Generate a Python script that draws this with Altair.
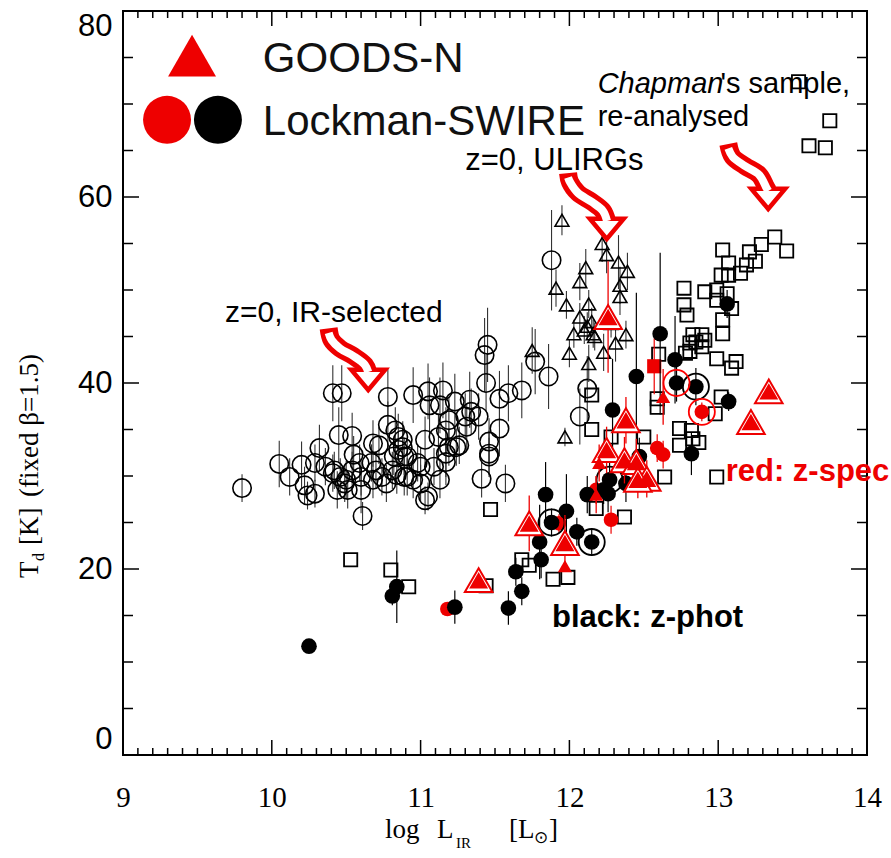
import altair as alt
import pandas as pd

PLOT_W = 744
PLOT_H = 744

# ---------------- data ----------------
# z=0 IR-selected galaxies (open circles): log L_IR, T_d, 1-sigma error
ir_logl = [9.80, 10.05, 10.12, 10.20, 10.22, 10.24, 10.29, 10.29, 10.32, 10.36,
           10.41, 10.47, 10.42, 10.41, 10.44, 10.45, 10.46, 10.49, 10.51, 10.54,
           10.54, 10.55, 10.50, 10.59, 10.60, 10.60, 10.61, 10.67, 10.68, 10.68,
           10.70, 10.72, 10.74, 10.77, 10.78, 10.78, 10.81, 10.82, 10.83, 10.84,
           10.85, 10.85, 10.88, 10.88, 10.89, 10.89, 10.91, 10.91, 10.95, 10.95,
           10.98, 11.00, 11.00, 11.03, 11.03, 11.05, 11.05, 11.06, 11.09, 11.12,
           11.13, 11.13, 11.15, 11.17, 11.17, 11.17, 11.19, 11.19, 11.23, 11.24,
           11.26, 11.30, 11.31, 11.33, 11.34, 11.39, 11.41, 11.43, 11.45, 11.44,
           11.46, 11.46, 11.46, 11.53, 11.53, 11.57, 11.59, 11.68, 11.77, 11.86,
           11.88, 12.07, 12.12]
ir_td = [28.7, 31.3, 29.9, 31.2, 29.0, 27.9, 28.1, 31.4, 33.0, 31.0,
         38.9, 38.9, 30.6, 30.3, 28.5, 34.4, 29.9, 29.2, 28.5, 34.3,
         30.6, 32.3, 29.6, 31.4, 29.9, 28.5, 25.7, 31.4, 33.5, 29.6,
         30.6, 33.3, 29.9, 29.2, 38.5, 35.5, 30.6, 32.1, 34.9, 30.1,
         34.2, 32.8, 33.1, 33.9, 32.1, 29.9, 32.1, 29.9, 38.7, 29.6,
         31.4, 31.0, 29.2, 33.9, 27.4, 27.8, 39.1, 37.6, 31.0, 34.2,
         37.6, 29.6, 39.2, 34.9, 32.4, 31.5, 36.0, 33.1, 38.0, 33.1,
         33.3, 36.4, 35.3, 38.2, 36.9, 36.4, 29.7, 43.0, 44.1, 40.0,
         33.7, 32.4, 32.1, 38.3, 35.1, 29.2, 38.9, 39.2, 42.3, 40.7,
         53.2, 36.4, 39.4]
ir_err = [1.5, 2.5, 2.0, 2.5, 2.0, 1.5, 1.5, 2.0, 2.5, 2.0,
          3.0, 3.0, 2.0, 2.0, 2.0, 3.0, 2.0, 2.0, 2.0, 2.5,
          2.0, 2.0, 2.0, 2.0, 2.0, 2.5, 1.5, 2.0, 2.5, 2.0,
          2.0, 2.0, 2.0, 2.0, 3.0, 2.5, 2.0, 2.0, 2.5, 2.0,
          2.5, 2.0, 2.0, 2.0, 2.0, 2.0, 2.0, 2.0, 3.0, 2.0,
          2.0, 2.0, 2.0, 2.5, 1.5, 1.5, 3.0, 3.0, 2.0, 2.5,
          3.0, 2.0, 3.0, 2.5, 2.5, 2.5, 2.5, 2.0, 3.0, 2.0,
          2.0, 2.5, 2.5, 3.0, 2.5, 2.5, 2.0, 4.0, 4.0, 3.0,
          2.5, 2.5, 2.0, 3.0, 3.0, 2.0, 3.0, 3.0, 3.5, 3.5,
          5.4, 3.0, 3.5]

# z=0 ULIRGs (open triangles)
ul_logl = [11.95, 12.22, 12.25, 12.33, 12.39, 12.11, 12.07, 12.34, 12.34, 11.91,
           11.98, 12.13, 12.07, 12.15, 12.12, 12.03, 12.10, 12.16, 12.17, 12.28,
           12.38, 12.31, 12.23, 12.00, 12.13, 11.75, 11.97]
ul_td = [57.5, 55.0, 53.8, 53.0, 52.0, 52.4, 50.9, 50.5, 49.3, 50.2,
         48.4, 48.5, 47.1, 46.6, 46.1, 45.3, 45.7, 45.3, 45.0, 46.4,
         45.2, 44.3, 43.3, 43.2, 42.1, 43.5, 34.2]
ul_err = [1.6, 2.0, 2.0, 2.9, 2.0, 2.0, 2.0, 2.0, 2.0, 2.0,
          1.5, 1.5, 1.5, 1.5, 1.5, 1.5, 1.5, 1.5, 1.5, 1.5,
          1.5, 2.0, 2.0, 1.5, 2.0, 2.5, 1.0]

# Chapman's sample, re-analysed (open squares)
ch_logl = [13.54, 13.75, 13.61, 13.72, 13.38, 13.46, 13.29, 13.21, 13.03, 13.25,
           13.19, 13.15, 13.07, 13.02, 13.07, 12.91, 12.99, 13.06, 12.99, 13.09,
           12.77, 12.77, 12.79, 13.03, 13.03, 12.83, 12.89, 12.91, 12.85, 12.81,
           12.81, 12.89, 12.99, 13.12, 13.09, 12.78, 13.02, 12.98, 12.60, 12.59,
           12.59, 12.74, 12.82, 12.74, 12.83, 12.50, 12.64, 12.99, 12.15, 12.15,
           12.28, 11.47, 12.18, 12.37, 11.68, 11.73, 11.89, 11.99, 11.44, 10.53,
           10.80, 10.92, 12.87]
ch_td = [72.4, 68.2, 65.5, 65.3, 55.7, 54.2, 54.9, 54.1, 54.3, 53.1,
         52.7, 51.8, 52.9, 51.6, 51.6, 49.8, 50.0, 49.6, 48.9, 48.0,
         50.2, 48.4, 47.3, 46.8, 45.3, 45.2, 45.2, 44.6, 44.4, 44.3,
         43.4, 43.9, 42.6, 42.3, 41.6, 43.2, 38.5, 36.7, 43.1, 38.3,
         37.4, 35.1, 34.9, 33.3, 34.0, 34.2, 29.9, 29.9, 38.7, 35.0,
         34.2, 26.4, 26.5, 25.6, 21.0, 20.4, 18.9, 19.1, 18.2, 21.0,
         19.9, 18.1, 33.6]

# Lockman-SWIRE, photometric redshifts (filled black circles)
lp_logl = [10.25, 10.84, 10.81, 11.23, 11.59, 11.68, 11.64, 11.81, 11.80, 12.05,
           11.98, 11.84, 12.15, 11.88, 12.12, 12.26, 12.23, 12.27, 12.38, 12.47,
           12.29, 12.82, 12.85, 13.07, 12.72, 12.45, 12.61, 12.71, 13.06]
lp_td = [11.7, 18.1, 17.1, 15.9, 15.8, 17.6, 19.7, 21.0, 22.9, 24.0,
         26.2, 28.0, 22.9, 25.0, 28.0, 28.1, 28.5, 29.6, 29.2, 32.1,
         37.1, 32.4, 39.6, 38.0, 40.0, 40.7, 45.3, 42.5, 48.5]
lp_err = [0.6, 3.9, 1.0, 1.8, 1.8, 1.5, 1.5, 2.0, 4.0, 1.5,
          4.0, 3.5, 1.5, 1.5, 2.0, 2.0, 1.5, 2.0, 2.0, 2.0,
          5.5, 2.3, 2.0, 1.0, 2.0, 9.0, 8.7, 4.7, 1.5]

# Lockman-SWIRE, spectroscopic redshifts (filled red circles)
ls_logl = [11.18, 12.28, 12.59, 12.63, 12.89, 12.18, 11.93]
ls_td = [15.7, 25.3, 33.0, 32.3, 36.9, 28.5, 24.9]
ls_err = [0.5, 1.5, 1.5, 1.5, 1.0, 1.5, 1.0]

# red filled square
rq_logl = [12.57]
rq_td = [41.8]
rq_err = [3.0]

# sources marked with an extra ring
ring_logl = [12.15, 11.88, 12.27, 12.85, 12.72, 12.89]
ring_td = [22.9, 25.0, 29.6, 39.6, 40.0, 36.9]
ring_col = ["black", "black", "black", "black", "red", "red"]

# GOODS-N (red triangles), large symbols
gn_logl = [11.39, 11.73, 11.97, 12.38, 12.25, 12.37, 12.45, 12.52, 12.46, 12.26, 13.34, 13.22]
gn_td = [18.8, 24.9, 22.8, 36.0, 32.8, 31.7, 31.5, 29.7, 29.6, 47.1, 39.1, 35.8]
gn_err = [0.5, 3.0, 3.0, 2.5, 2.5, 2.5, 2.5, 2.0, 2.0, 6.0, 0.5, 0.5]
# GOODS-N, small symbols
gs_logl = [11.97, 12.20, 12.18, 12.63]
gs_td = [20.3, 31.4, 28.0, 38.5]
gs_err = [0.5, 2.0, 2.0, 3.0]

# axis ticks
x_major = [9, 10, 11, 12, 13, 14]
x_minor = [round(9 + i / 10, 1) for i in range(1, 50) if i % 10]
y_major = [0, 20, 40, 60, 80]
y_minor = [5, 10, 15, 25, 30, 35, 45, 50, 55, 65, 70, 75]

# wavy annotation arrows: centre line (y for the red outline, yw for the white core)
arrow_id = [1] * 6 + [2] * 6 + [3] * 6
arrow_k = [0, 1, 2, 3, 4, 5] * 3
arrow_x = [10.382, 10.402, 10.458, 10.548, 10.626, 10.648,
           11.991, 12.004, 12.058, 12.152, 12.226, 12.253,
           13.068, 13.097, 13.180, 13.276, 13.321, 13.336]
arrow_y = [45.88, 44.62, 43.73, 42.90, 41.94, 41.18,
           62.58, 61.61, 60.43, 59.46, 58.49, 57.42,
           65.70, 64.33, 63.33, 62.37, 61.08, 60.65]
arrow_yw = [45.40, 44.62, 43.73, 42.90, 41.94, 41.18,
            62.10, 61.61, 60.43, 59.46, 58.49, 57.42,
            65.22, 64.33, 63.33, 62.37, 61.08, 60.65]
head_x = [10.648, 12.251, 13.336]
head_y = [40.43, 56.67, 59.89]

# legend symbols
leg_x = [9.464, 9.296, 9.638]
leg_y = [75.2, 68.3, 68.3]
leg_shape = ["triangle-up", "circle", "circle"]
leg_col = ["#ee0000", "#ee0000", "black"]

# ---------------- encodings ----------------
x_scale = alt.Scale(domain=[9, 14], nice=False, zero=False)
y_scale = alt.Scale(domain=[0, 80], nice=False, zero=False)
x_axis = alt.Axis(values=x_major, title=None, grid=False, ticks=False, domain=False,
                  labelFont="Liberation Serif", labelFontSize=29, labelColor="black",
                  labelPadding=28, labelFlush=False, labelOverlap=False)
y_axis = alt.Axis(values=y_major, title=None, grid=False, ticks=False, domain=False,
                  labelFont="Liberation Sans", labelFontSize=31, labelColor="black",
                  labelPadding=11, labelFlush=True, labelOverlap=False)


def X(field="x"):
    return alt.X(f"{field}:Q", scale=x_scale, axis=x_axis)


def Y(field="y"):
    return alt.Y(f"{field}:Q", scale=y_scale, axis=y_axis)


def frame(xs, ys, **extra):
    d = {"x": xs, "y": ys}
    d.update(extra)
    return pd.DataFrame(d)


def errbars(df, color, width=1.2):
    d = df.assign(lo=df["y"] - df["e"], hi=df["y"] + df["e"])
    return alt.Chart(d).mark_rule(color=color, strokeWidth=width).encode(
        x=X(), y=Y("lo"), y2="hi:Q")


def points(df, **mark):
    return alt.Chart(df).mark_point(opacity=1, **mark).encode(x=X(), y=Y())


RED = "#ee0000"

ir = frame(ir_logl, ir_td, e=ir_err)
ul = frame(ul_logl, ul_td, e=ul_err)
ch = frame(ch_logl, ch_td)
lp = frame(lp_logl, lp_td, e=lp_err)
ls = frame(ls_logl, ls_td, e=ls_err)
rq = frame(rq_logl, rq_td, e=rq_err)
rings = frame(ring_logl, ring_td, c=ring_col)
gn = frame(gn_logl, gn_td, e=gn_err)
gs = frame(gs_logl, gs_td, e=gs_err)

layers = []


# inward ticks on all four sides
def xticks(vals, length):
    base = alt.Chart(pd.DataFrame({"x": vals})).mark_rule(color="black", strokeWidth=1.5)
    return [base.encode(x=X(), y=alt.value(PLOT_H), y2=alt.value(PLOT_H - length)),
            base.encode(x=X(), y=alt.value(0), y2=alt.value(length))]


def yticks(vals, length):
    base = alt.Chart(pd.DataFrame({"y": vals})).mark_rule(color="black", strokeWidth=1.5)
    return [base.encode(y=Y(), x=alt.value(0), x2=alt.value(length)),
            base.encode(y=Y(), x=alt.value(PLOT_W), x2=alt.value(PLOT_W - length))]


layers += xticks(x_minor, 7) + xticks(x_major, 15)
layers += yticks(y_minor, 10) + yticks(y_major, 16)

# local IR-selected galaxies and ULIRGs
layers.append(errbars(ir, "#333333", 1.1))
layers.append(points(ir, shape="circle", size=340, filled=False, color="black", strokeWidth=1.6))
layers.append(errbars(ul, "#333333", 1.1))
layers.append(points(ul, shape="triangle-up", size=190, filled=False, color="black", strokeWidth=1.6))
# Chapman's sample
layers.append(points(ch, shape="square", size=175, filled=False, color="black", strokeWidth=1.8))
# Lockman-SWIRE
layers.append(errbars(ls, RED, 1.2))
layers.append(points(ls, shape="circle", size=215, filled=True, color=RED))
layers.append(errbars(rq, RED, 1.2))
layers.append(points(rq, shape="square", size=200, filled=True, color=RED))
layers.append(errbars(lp, "black", 1.2))
layers.append(points(lp, shape="circle", size=245, filled=True, color="black"))
layers.append(alt.Chart(rings).mark_point(shape="circle", size=680, filled=False, strokeWidth=1.8, opacity=1)
              .encode(x=X(), y=Y(), color=alt.Color("c:N", scale=None)))
# GOODS-N
layers.append(errbars(gn, RED, 1.3))
layers.append(errbars(gs, RED, 1.3))
layers.append(points(gn, shape="triangle-up", size=760, filled=True, fill="white", stroke=RED, strokeWidth=2))
layers.append(points(gn, shape="triangle-up", size=360, filled=True, color=RED))
layers.append(points(gs, shape="triangle-up", size=200, filled=True, color=RED))

# arrows: thick red outline, hollow head, white core
arrows = pd.DataFrame({"x": arrow_x, "y": arrow_y, "yw": arrow_yw, "id": arrow_id, "k": arrow_k})
heads = frame(head_x, head_y)
layers.append(alt.Chart(arrows).mark_line(color=RED, strokeWidth=18, interpolate="catmull-rom",
                                          strokeCap="butt").encode(
    x=X(), y=Y(), detail="id:N", order="k:Q"))
layers.append(points(heads, shape="M-1,-0.55L1,-0.55L0,0.65Z", size=1150, filled=True,
                     fill="white", stroke=RED, strokeWidth=4.5, strokeJoin="miter"))
layers.append(alt.Chart(arrows).mark_line(color="white", strokeWidth=8, interpolate="catmull-rom",
                                          strokeCap="butt").encode(
    x=X(), y=Y("yw"), detail="id:N", order="k:Q"))

# legend
leg = frame(leg_x, leg_y, s=leg_shape, c=leg_col)
layers.append(alt.Chart(leg).mark_point(size=2300, filled=True, opacity=1).encode(
    x=X(), y=Y(), shape=alt.Shape("s:N", scale=None), color=alt.Color("c:N", scale=None)))


def note(text, x, y, size, color="black", weight="normal", style="normal", font="Liberation Sans"):
    return alt.Chart(frame([x], [y])).mark_text(
        text=text, align="left", baseline="middle", font=font, fontSize=size,
        color=color, fontWeight=weight, fontStyle=style).encode(x=X(), y=Y())


layers += [
    note("GOODS-N", 9.94, 74.8, 42, "#111111"),
    note("Lockman-SWIRE", 9.94, 68.1, 42, "#111111"),
    note("z=0, IR-selected", 9.686, 47.5, 30),
    note("z=0, ULIRGs", 11.30, 63.9, 31),
    note("Chapman", 12.19, 72.1, 29, style="italic"),
    note("'s sample,", 13.015, 72.1, 29),
    note("re-analysed", 12.19, 68.6, 29),
    note("red: z-spec", 13.05, 30.4, 31, RED, "bold"),
    note("black: z-phot", 11.883, 14.7, 31, "black", "bold"),
]

# axis titles
one = pd.DataFrame({"v": [0]})


def title_piece(text, px, py, size, angle=0):
    kw = dict(text=text, align="left", baseline="middle", font="Liberation Serif",
              fontSize=size, color="black")
    if angle:
        kw["angle"] = angle
    return alt.Chart(one).mark_text(**kw).encode(x=alt.value(px), y=alt.value(py))


layers += [
    title_piece("log", 262, 819, 27),
    title_piece("L", 314, 819, 27),
    title_piece("IR", 333, 832, 15),
    title_piece("[L", 386, 819, 27),
    title_piece("\u2299", 411, 827, 17),
    title_piece("]", 426, 819, 27),
    title_piece("T", -93, 567, 27, 270),
    title_piece("d", -84, 550, 16, 270),
    title_piece("[K]", -93, 534, 27, 270),
    title_piece("(fixed \u03b2=1.5)", -93, 486, 27, 270),
]

chart = alt.layer(*layers).properties(
    width=PLOT_W, height=PLOT_H,
    padding={"left": 123, "top": 11, "right": 24, "bottom": 103},
    autosize=alt.AutoSizeParams(type="none"),
).configure_view(stroke="black", strokeWidth=2)

chart.save("out.html", embed_options={"renderer": "svg", "actions": False})
